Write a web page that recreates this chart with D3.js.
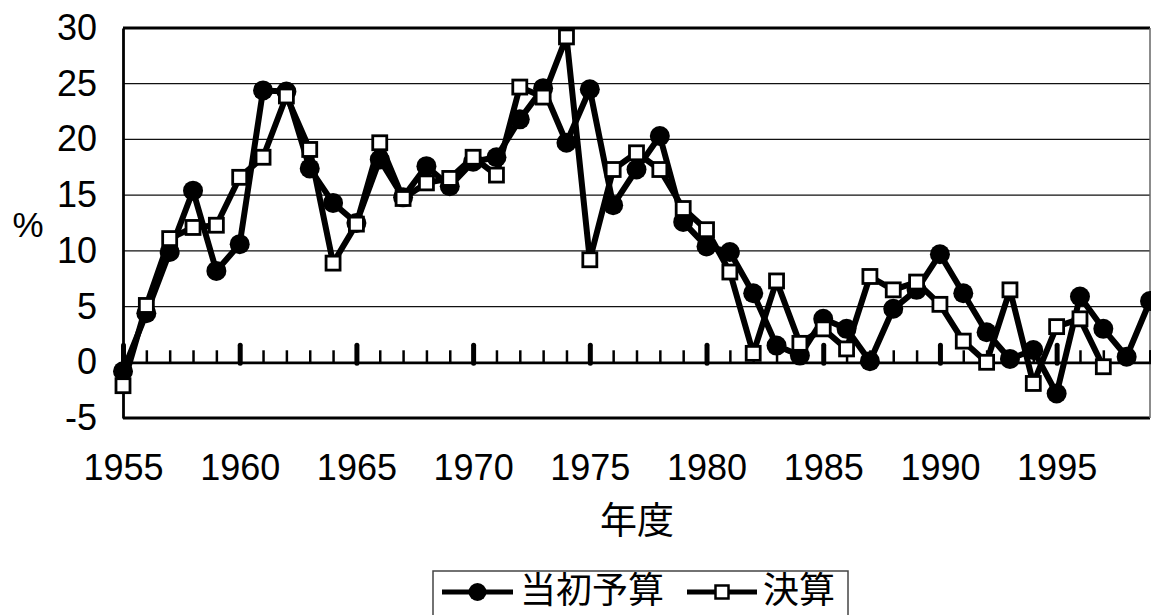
<!DOCTYPE html>
<meta charset="utf-8">
<script src="https://d3js.org/d3.v7.min.js"></script>
<style>
  body { margin: 0; background: #fff; }
</style>
<body>
  <div id="container"></div>
</body>
<script>
    // data (growth rate, %)
    var years = d3.range(1955, 2000);
    var initialBudget = [-0.8, 4.4, 9.9, 15.4, 8.2, 10.6, 24.4, 24.3, 17.4, 14.3,
      12.5, 18.2, 14.8, 17.6, 15.8, 18.0, 18.4, 21.8, 24.6, 19.7,
      24.5, 14.1, 17.3, 20.3, 12.6, 10.4, 9.9, 6.2, 1.5, 0.6,
      3.9, 3.0, 0.1, 4.8, 6.5, 9.7, 6.2, 2.7, 0.3, 1.1,
      -2.8, 5.9, 3.0, 0.5, 5.5];
    var settled = [-2.1, 5.1, 11.1, 12.1, 12.3, 16.6, 18.4, 23.9, 19.1, 8.9,
      12.4, 19.7, 14.7, 16.1, 16.5, 18.4, 16.8, 24.7, 23.8, 29.2,
      9.2, 17.3, 18.8, 17.3, 13.8, 11.9, 8.1, 0.8, 7.3, 1.7,
      3.0, 1.2, 7.7, 6.5, 7.2, 5.2, 1.9, 0.0, 6.5, -1.9,
      3.2, 3.9, -0.4, null, null];
    var yTicks = [-5, 0, 5, 10, 15, 20, 25, 30];
    var xLabels = [1955, 1960, 1965, 1970, 1975, 1980, 1985, 1990, 1995];
    var seriesNames = ["当初予算", "決算"];

    var W = 1151, H = 615;
    var margin = {top: 28, right: 1, bottom: 197, left: 123},
    width = W - margin.left - margin.right,
    height = H - margin.top - margin.bottom;

    var svg = d3.select("#container")
      .append("svg")
      .attr("width", W)
      .attr("height", H)
      .append("g")
      .attr("transform", "translate(" + margin.left + "," + margin.top + ")");

    var x = d3.scaleLinear().domain([1955, 1999]).range([0, width]);
    var y = d3.scaleLinear().domain([-5, 30]).range([height, 0]);

    var latin = "'Liberation Sans', Arial, sans-serif";
    var cjk = "'Noto Sans CJK JP', 'Noto Sans CJK SC', sans-serif";

    // horizontal gridlines
    svg.append("g")
      .selectAll("line")
      .data(yTicks.filter(function(d) { return d > -5 && d < 30 && d != 0; }))
      .enter().append("line")
        .attr("x1", 0).attr("x2", width)
        .attr("y1", function(d) { return y(d); })
        .attr("y2", function(d) { return y(d); })
        .attr("stroke", "#111")
        .attr("stroke-width", 1.3);

    // frame
    svg.append("line").attr("x1", 0).attr("x2", width).attr("y1", 0).attr("y2", 0)
      .attr("stroke", "#000").attr("stroke-width", 2.8);
    svg.append("line").attr("x1", 0).attr("x2", width).attr("y1", height).attr("y2", height)
      .attr("stroke", "#000").attr("stroke-width", 2.8);
    svg.append("line").attr("x1", width).attr("x2", width).attr("y1", 0).attr("y2", height)
      .attr("stroke", "#666").attr("stroke-width", 1.5);

    // Y axis
    var yAxis = svg.append("g")
      .call(d3.axisLeft(y).tickValues(yTicks).tickSize(0).tickPadding(26)
        .tickFormat(function(d) { return String(d); }));
    yAxis.select(".domain").attr("stroke", "#000").attr("stroke-width", 2.8);
    yAxis.selectAll("text")
      .attr("font-family", latin)
      .attr("font-size", "36px")
      .attr("fill", "#000");

    // Y axis label
    svg.append("text")
      .attr("font-family", latin)
      .attr("font-size", "35px")
      .attr("text-anchor", "middle")
      .attr("x", 28 - margin.left)
      .attr("y", 225 - margin.top)
      .attr("dy", "0.35em")
      .text("%");

    // zero line with ticks pointing up
    var zero = svg.append("g").attr("transform", "translate(0," + y(0) + ")");
    var minor = zero.append("g")
      .call(d3.axisTop(x).tickValues(years).tickSize(12).tickFormat(""));
    minor.select(".domain").attr("stroke", "#000").attr("stroke-width", 2.8);
    minor.selectAll(".tick line").attr("stroke", "#000").attr("stroke-width", 2.5);
    var major = zero.append("g")
      .call(d3.axisTop(x).tickValues(xLabels).tickSize(18).tickFormat(""));
    major.select(".domain").remove();
    major.selectAll(".tick line")
      .attr("stroke", "#000").attr("stroke-width", 5)
      .attr("stroke-linecap", "round")
      .attr("y2", -17).attr("y1", 1);

    // X labels at the bottom of the plot
    var xAxis = svg.append("g")
      .attr("transform", "translate(0," + height + ")")
      .call(d3.axisBottom(x).tickValues(xLabels).tickSize(0).tickPadding(36)
        .tickFormat(d3.format("d")));
    xAxis.select(".domain").remove();
    xAxis.selectAll("text")
      .attr("font-family", latin)
      .attr("font-size", "36px")
      .attr("fill", "#000");

    // X axis title
    svg.append("text")
      .attr("font-family", cjk)
      .attr("font-size", "37px")
      .attr("text-anchor", "middle")
      .attr("x", 637 - margin.left)
      .attr("y", 521 - margin.top)
      .attr("dy", "0.35em")
      .text("年度");

    var line = d3.line()
      .defined(function(d) { return d[1] != null; })
      .x(function(d) { return x(d[0]); })
      .y(function(d) { return y(d[1]); });

    // 当初予算
    var s1 = years.map(function(yr, i) { return [yr, initialBudget[i]]; });
    svg.append("path")
      .datum(s1)
      .attr("d", line)
      .attr("fill", "none")
      .attr("stroke", "#000")
      .attr("stroke-width", 6)
      .attr("stroke-linejoin", "round");
    svg.append("g")
      .selectAll("circle")
      .data(s1)
      .enter().append("circle")
        .attr("cx", function(d) { return x(d[0]); })
        .attr("cy", function(d) { return y(d[1]); })
        .attr("r", 10)
        .attr("fill", "#000");

    // 決算
    var s2 = years.map(function(yr, i) { return [yr, settled[i]]; })
      .filter(function(d) { return d[1] != null; });
    svg.append("path")
      .datum(s2)
      .attr("d", line)
      .attr("fill", "none")
      .attr("stroke", "#000")
      .attr("stroke-width", 6)
      .attr("stroke-linejoin", "round");
    var sq = 14;
    svg.append("g")
      .selectAll("rect")
      .data(s2)
      .enter().append("rect")
        .attr("x", function(d) { return x(d[0]) - sq / 2; })
        .attr("y", function(d) { return y(d[1]) - sq / 2; })
        .attr("width", sq)
        .attr("height", sq)
        .attr("fill", "#fff")
        .attr("stroke", "#000")
        .attr("stroke-width", 2.8);

    // legend
    var legend = d3.select("svg").append("g");
    legend.append("rect")
      .attr("x", 433).attr("y", 571)
      .attr("width", 415).attr("height", 60)
      .attr("fill", "#fff")
      .attr("stroke", "#444")
      .attr("stroke-width", 1.5);
    var items = [
      {x0: 442, x1: 513, tx: 520},
      {x0: 687, x1: 757, tx: 763}
    ];
    items.forEach(function(it, i) {
      var cy = 592, cx = (it.x0 + it.x1) / 2;
      legend.append("line")
        .attr("x1", it.x0).attr("x2", it.x1)
        .attr("y1", cy).attr("y2", cy)
        .attr("stroke", "#000").attr("stroke-width", 5);
      if (i == 0) {
        legend.append("circle").attr("cx", cx).attr("cy", cy).attr("r", 9).attr("fill", "#000");
      } else {
        legend.append("rect")
          .attr("x", cx - 6.5).attr("y", cy - 6.5)
          .attr("width", 13).attr("height", 13)
          .attr("fill", "#fff").attr("stroke", "#000").attr("stroke-width", 2.5);
      }
      legend.append("text")
        .attr("font-family", cjk)
        .attr("font-size", "36px")
        .attr("x", it.tx)
        .attr("y", cy - 2)
        .attr("dy", "0.36em")
        .text(seriesNames[i]);
    });
</script>
